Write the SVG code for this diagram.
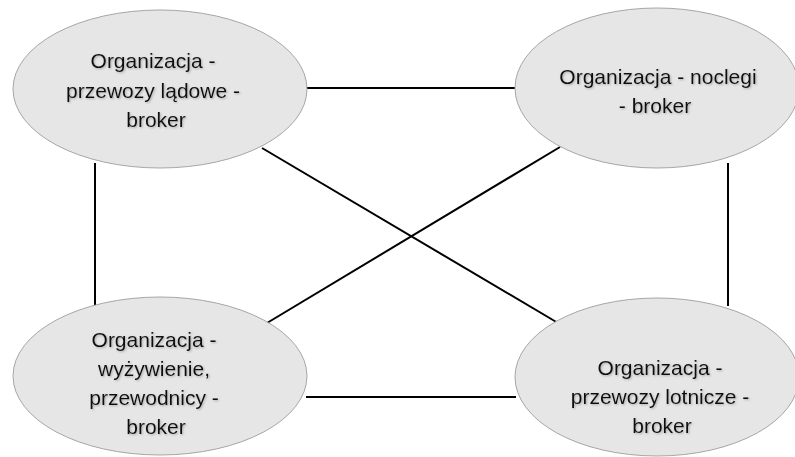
<svg xmlns="http://www.w3.org/2000/svg" width="795" height="457" viewBox="0 0 795 457">
  <defs>
    <filter id="soft" x="-10%" y="-30%" width="120%" height="160%">
      <feDropShadow dx="1" dy="1" stdDeviation="1" flood-color="#777" flood-opacity="0.55"/>
    </filter>
  </defs>
  <style>
    .node { fill: #e6e6e6; stroke: #a6a6a6; stroke-width: 1; }
    .label { font-family: "Liberation Sans", Arial, sans-serif; font-size: 21px; fill: #111; text-anchor: middle; filter: url(#soft); }
    .edge { stroke: #000; stroke-width: 2; fill: none; }
  </style>
  <rect width="795" height="457" fill="#fff"/>

  <g id="connectors">
    <line class="edge" x1="306" y1="88" x2="516" y2="88"/>
    <line class="edge" x1="306" y1="397" x2="516" y2="397"/>
    <line class="edge" x1="95" y1="163" x2="95" y2="306"/>
    <line class="edge" x1="728" y1="163" x2="728" y2="306"/>
    <line class="edge" x1="262" y1="148" x2="558" y2="323"/>
    <line class="edge" x1="560" y1="147" x2="267" y2="323"/>
  </g>

  <g id="node-ladowe">
    <ellipse class="node" cx="160" cy="89" rx="147" ry="79"/>
    <text class="label" x="153" y="68">Organizacja -</text>
    <text class="label" x="153" y="98">przewozy lądowe -</text>
    <text class="label" x="156" y="127">broker</text>
  </g>

  <g id="node-noclegi">
    <ellipse class="node" cx="657" cy="88" rx="142" ry="80"/>
    <text class="label" x="658" y="84">Organizacja - noclegi</text>
    <text class="label" x="655" y="113">- broker</text>
  </g>

  <g id="node-wyzywienie">
    <ellipse class="node" cx="160" cy="376" rx="147" ry="79"/>
    <text class="label" x="154" y="347">Organizacja -</text>
    <text class="label" x="154" y="376">wyżywienie,</text>
    <text class="label" x="154" y="405">przewodnicy -</text>
    <text class="label" x="156" y="434">broker</text>
  </g>

  <g id="node-lotnicze">
    <ellipse class="node" cx="657" cy="377" rx="142" ry="79"/>
    <text class="label" x="660" y="375">Organizacja -</text>
    <text class="label" x="660" y="404">przewozy lotnicze -</text>
    <text class="label" x="662" y="433">broker</text>
  </g>
</svg>
